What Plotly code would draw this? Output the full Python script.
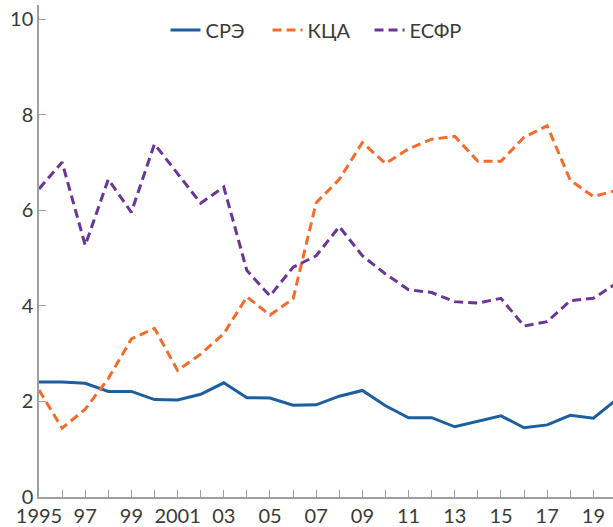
import plotly.graph_objects as go

years = list(range(1995, 2021))

# Shares by market, per cent
sre = [2.41, 2.41, 2.38, 2.21, 2.21, 2.04, 2.03, 2.15, 2.39, 2.08, 2.07, 1.92, 1.93,
       2.11, 2.23, 1.91, 1.66, 1.66, 1.47, 1.59, 1.70, 1.45, 1.51, 1.71, 1.65, 2.04]
kca = [2.24, 1.44, 1.84, 2.48, 3.31, 3.53, 2.65, 2.99, 3.42, 4.19, 3.81, 4.15, 6.16,
       6.65, 7.42, 6.98, 7.29, 7.49, 7.55, 7.03, 7.03, 7.53, 7.77, 6.63, 6.29, 6.42]
esfr = [6.45, 7.01, 5.27, 6.65, 5.96, 7.39, 6.77, 6.15, 6.49, 4.74, 4.21, 4.81, 5.05,
        5.66, 5.05, 4.67, 4.34, 4.28, 4.09, 4.06, 4.16, 3.58, 3.67, 4.11, 4.16, 4.47]

series_names = ["СРЭ", "КЦА", "ЕСФР"]
series_colors = ["#1c5f9f", "#f36c2b", "#6a3596"]
series_dash = ["solid", "9px,5px", "9px,5px"]

tick_years = list(range(1995, 2020))
tick_text = ["1995" if y == 1995 else ("2001" if y == 2001 else (f"{y % 100:02d}" if y % 2 == 1 else ""))
             for y in tick_years]
y_ticks = [0, 2, 4, 6, 8, 10]

fig = go.Figure()
for name, vals, col, dash in zip(series_names, [sre, kca, esfr], series_colors, series_dash):
    fig.add_trace(go.Scatter(x=years, y=vals, name=name, mode="lines",
                             line=dict(color=col, width=3, dash=dash)))

axis_grey = "#a0a0a0"
text_grey = "#3a3a3a"
font_family = "Lato, 'Open Sans', sans-serif"

fig.update_layout(
    width=613, height=527,
    margin=dict(l=39, r=0, t=5, b=28),
    paper_bgcolor="white", plot_bgcolor="white",
    font=dict(family=font_family, size=20, color=text_grey),
    showlegend=True,
    legend=dict(orientation="h", x=0.487, xanchor="center", y=0.949, yanchor="middle",
                entrywidth=57, entrywidthmode="pixels",
                font=dict(size=20, color=text_grey), bgcolor="rgba(0,0,0,0)"),
    xaxis=dict(range=[1995, 2019.85], tickvals=tick_years, ticktext=tick_text,
               ticks="inside", ticklen=7, tickcolor=axis_grey, tickwidth=1,
               showline=True, linecolor=axis_grey, linewidth=1.5,
               showgrid=False, zeroline=False, tickangle=0,
               tickfont=dict(size=20, color=text_grey)),
    yaxis=dict(range=[0, 10.3], tickvals=y_ticks, ticks="inside", ticklen=7,
               tickcolor=axis_grey, tickwidth=1,
               showline=True, linecolor=axis_grey, linewidth=1.5,
               showgrid=False, zeroline=False,
               tickfont=dict(size=20, color=text_grey)),
    yaxis2=dict(range=[0, 10.3], tickvals=y_ticks, overlaying="y", side="right",
                ticks="inside", ticklen=3, tickcolor=axis_grey, tickwidth=1,
                showticklabels=False, showline=False, showgrid=False, zeroline=False),
)

fig.write_html("out.html")
